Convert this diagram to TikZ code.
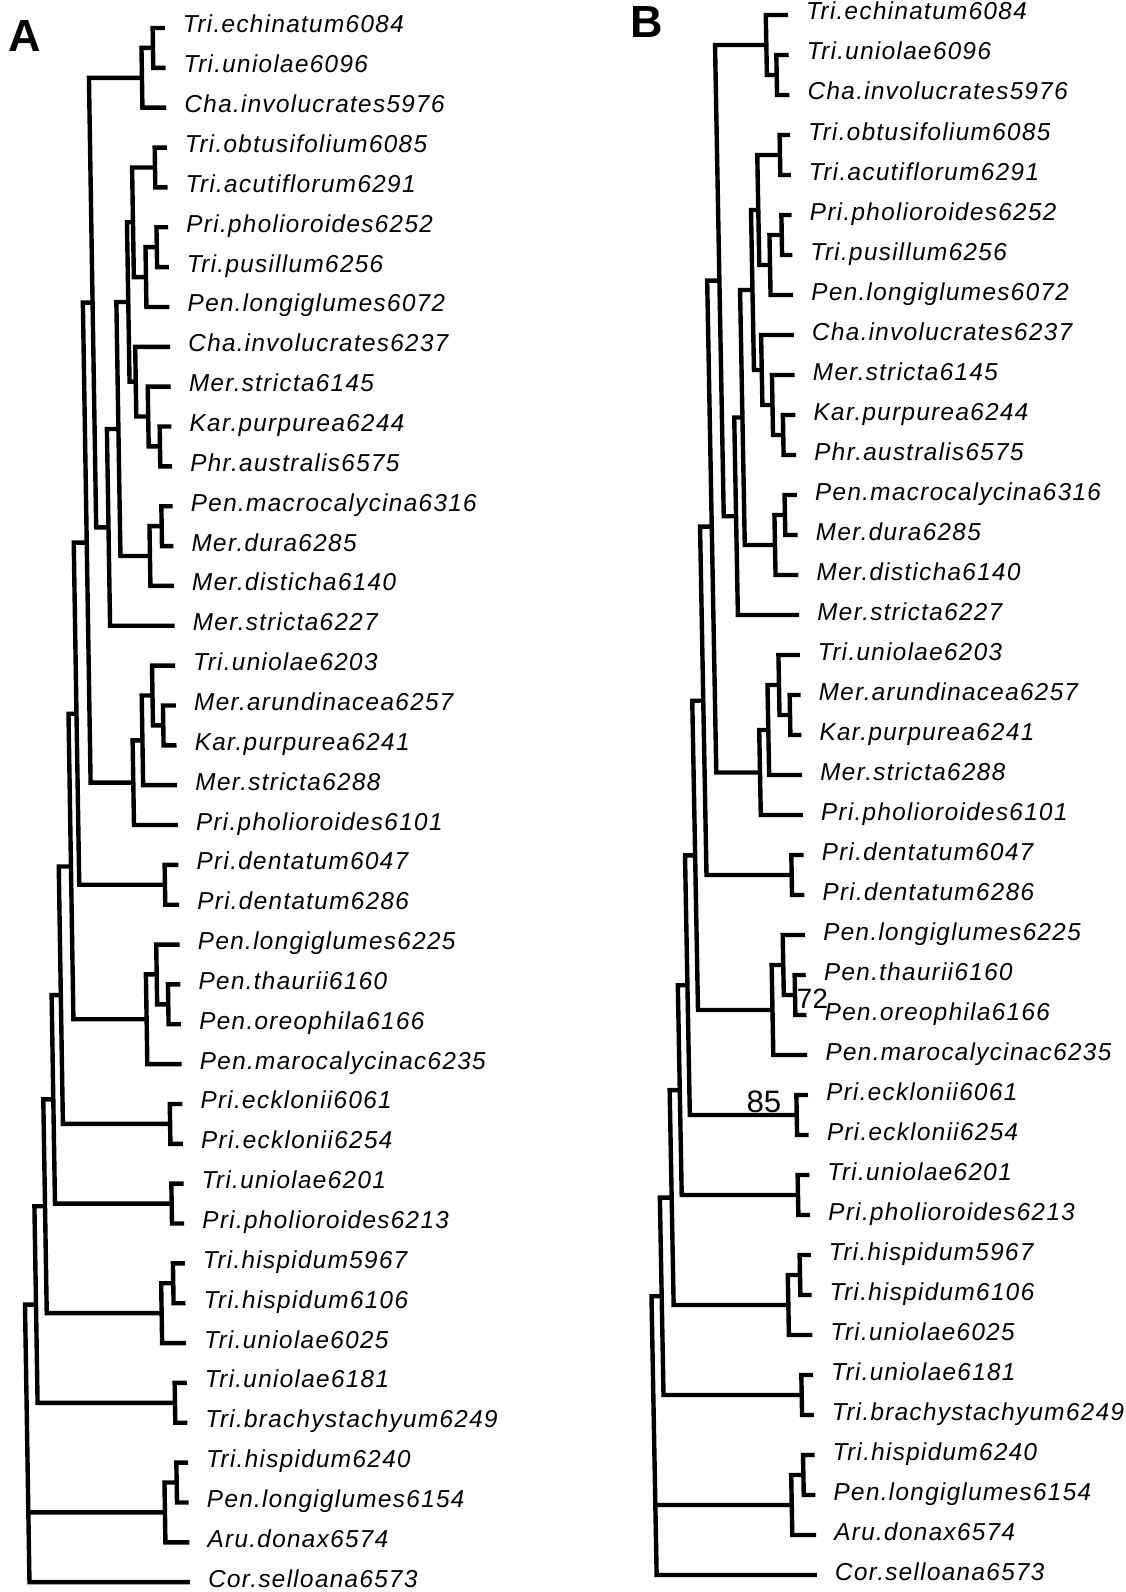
\documentclass[tikz,border=0pt]{standalone}
\usepackage{fontspec}
\setmainfont{Liberation Sans}
\newfontfamily\labfont{Liberation Sans}[LetterSpace=5]
\usetikzlibrary{calc}
\tikzset{
  br/.style={line width=4.4pt, line join=miter, line cap=butt},
  lab/.style={anchor=base west, inner sep=0pt, font=\labfont\itshape\fontsize{24.5}{28}\selectfont},
  panel/.style={anchor=base west, inner sep=0pt, font=\bfseries\fontsize{45}{50}\selectfont},
  boot/.style={anchor=base west, inner sep=0pt, font=\fontsize{28}{32}\selectfont},
}
% clade: name, x, upper child, lower child
\newcommand\clade[4]{%
  \path let \p1=(#3), \p2=(#4) in ({#2pt},{0.5*\y1+0.5*\y2}) coordinate (#1);
  \draw[br] (#3) -| (#1) |- (#4);
}
\def\leaflist{1/Tri.echinatum6084,2/Tri.uniolae6096,3/Cha.involucrates5976,
4/Tri.obtusifolium6085,5/Tri.acutiflorum6291,6/Pri.pholioroides6252,
7/Tri.pusillum6256,8/Pen.longiglumes6072,9/Cha.involucrates6237,
10/Mer.stricta6145,11/Kar.purpurea6244,12/Phr.australis6575,
13/Pen.macrocalycina6316,14/Mer.dura6285,15/Mer.disticha6140,
16/Mer.stricta6227,17/Tri.uniolae6203,18/Mer.arundinacea6257,
19/Kar.purpurea6241,20/Mer.stricta6288,21/Pri.pholioroides6101,
22/Pri.dentatum6047,23/Pri.dentatum6286,24/Pen.longiglumes6225,
25/Pen.thaurii6160,26/Pen.oreophila6166,27/Pen.marocalycinac6235,
28/Pri.ecklonii6061,29/Pri.ecklonii6254,30/Tri.uniolae6201,
31/Pri.pholioroides6213,32/Tri.hispidum5967,33/Tri.hispidum6106,
34/Tri.uniolae6025,35/Tri.uniolae6181,36/Tri.brachystachyum6249,
37/Tri.hispidum6240,38/Pen.longiglumes6154,39/Aru.donax6574,
40/Cor.selloana6573}
\begin{document}
\begin{tikzpicture}[x=1pt,y=-1pt]
\useasboundingbox[fill=white] (0,0) rectangle (1125,1592);
\node[panel] (pA) at (8,52) {A};
\node[panel] (pB) at (630,38) {B};
% ---------------- Tree A ----------------
\begin{scope}[transform canvas={xslant=-0.0161}]
\foreach \i/\nm in \leaflist {
  \coordinate (al\i) at (164.5,{28+39.85*(\i-1)});
  \node[lab] (tal\i) at ([xshift=18pt,yshift=-5pt]al\i) {\nm};
}
\clade{ac12}{152.2}{al1}{al2}
\clade{ac123}{140.7}{ac12}{al3}
\clade{ac45}{152.3}{al4}{al5}
\clade{ac67}{152.8}{al6}{al7}
\clade{ac678}{141.5}{ac67}{al8}
\clade{ac48}{129.4}{ac45}{ac678}
\clade{ac1112}{152.8}{al11}{al12}
\clade{ac1012}{141.5}{al10}{ac1112}
\clade{ac912}{129.6}{al9}{ac1012}
\clade{ac412}{123.4}{ac48}{ac912}
\clade{ac1314}{153.2}{al13}{al14}
\clade{ac1315}{141}{ac1314}{al15}
\clade{ac415}{111.5}{ac412}{ac1315}
\clade{ac416}{100}{ac415}{al16}
\clade{ac116}{87.7}{ac123}{ac416}
\clade{ac1819}{151.6}{al18}{al19}
\clade{ac1719}{141.3}{al17}{ac1819}
\clade{ac1720}{130.5}{ac1719}{al20}
\clade{ac1721}{120.7}{ac1720}{al21}
\clade{an1}{78}{ac116}{ac1721}
\clade{ac2223}{150.7}{al22}{al23}
\clade{an2}{65}{an1}{ac2223}
\clade{ac2526}{152.1}{al25}{al26}
\clade{ac2426}{141}{al24}{ac2526}
\clade{ac2427}{130.2}{ac2426}{al27}
\clade{an3}{57}{an2}{ac2427}
\clade{ac2829}{152}{al28}{al29}
\clade{an4}{44.8}{an3}{ac2829}
\clade{ac3031}{152.3}{al30}{al31}
\clade{an5}{35.6}{an4}{ac3031}
\clade{ac3233}{152.6}{al32}{al33}
\clade{ac3234}{140.5}{ac3233}{al34}
\clade{an6}{25.6}{an5}{ac3234}
\clade{ac3536}{152.4}{al35}{al36}
\clade{an7}{15}{an6}{ac3536}
\clade{ac3738}{152.8}{al37}{al38}
\clade{ac3739}{140.6}{ac3738}{al39}
\path let \p1=(ac3739) in (4pt,\y1) coordinate (aroot);
\draw[br] (an7) -| (aroot) |- (al40);
\draw[br] (aroot) -- (ac3739);
\end{scope}
% ---------------- Tree B ----------------
\begin{scope}[transform canvas={xslant=-0.0185}]
\foreach \i/\nm in \leaflist {
  \coordinate (bl\i) at (787.7,{15+40*(\i-1)});
  \node[lab] (tbl\i) at ([xshift=18pt,yshift=-5pt]bl\i) {\nm};
}
\clade{bc23}{775.3}{bl2}{bl3}
\clade{bc123}{765.5}{bl1}{bc23}
\clade{bc45}{777.1}{bl4}{bl5}
\clade{bc67}{777.4}{bl6}{bl7}
\clade{bc678}{765.1}{bc67}{bl8}
\clade{bc48}{754.4}{bc45}{bc678}
\clade{bc1112}{775.2}{bl11}{bl12}
\clade{bc1012}{765}{bl10}{bc1112}
\clade{bc912}{754.9}{bl9}{bc1012}
\clade{bc412}{747.1}{bc48}{bc912}
\clade{bc1314}{775.4}{bl13}{bl14}
\clade{bc1315}{764.9}{bc1314}{bl15}
\clade{bc415}{734.7}{bc412}{bc1315}
\clade{bc416}{726.5}{bc415}{bl16}
\clade{bc116}{714.2}{bc123}{bc416}
\clade{bc1819}{776.8}{bl18}{bl19}
\clade{bc1719}{766.3}{bl17}{bc1819}
\clade{bc1720}{754.8}{bc1719}{bl20}
\clade{bc1721}{745.7}{bc1720}{bl21}
\clade{bn1}{702}{bc116}{bc1721}
\clade{bc2223}{775.5}{bl22}{bl23}
\clade{bn2}{690.3}{bn1}{bc2223}
\clade{bc2526}{776.6}{bl25}{bl26}
\clade{bc2426}{765.4}{bl24}{bc2526}
\clade{bc2427}{753.8}{bc2426}{bl27}
\clade{bn3}{679.3}{bn2}{bc2427}
\clade{bc2829}{776.1}{bl28}{bl29}
\clade{bn4}{669.2}{bn3}{bc2829}
\clade{bc3031}{775.9}{bl30}{bl31}
\clade{bn5}{659.6}{bn4}{bc3031}
\clade{bc3233}{776.4}{bl32}{bl33}
\clade{bc3234}{764.2}{bc3233}{bl34}
\clade{bn6}{649.5}{bn5}{bc3234}
\clade{bc3536}{775.9}{bl35}{bl36}
\clade{bn7}{637.7}{bn6}{bc3536}
\clade{bc3738}{776.1}{bl37}{bl38}
\clade{bc3739}{763.9}{bc3738}{bl39}
\path let \p1=(bc3739) in (627.5pt,\y1) coordinate (broot);
\draw[br] (bn7) -| (broot) |- (bl40);
\draw[br] (broot) -- (bc3739);
\node[boot] (b72) at (778.2,1008) {72};
\node[boot, font=\fontsize{31}{34}\selectfont] (b85) at (726,1112) {85};
\end{scope}
\end{tikzpicture}
\end{document}
